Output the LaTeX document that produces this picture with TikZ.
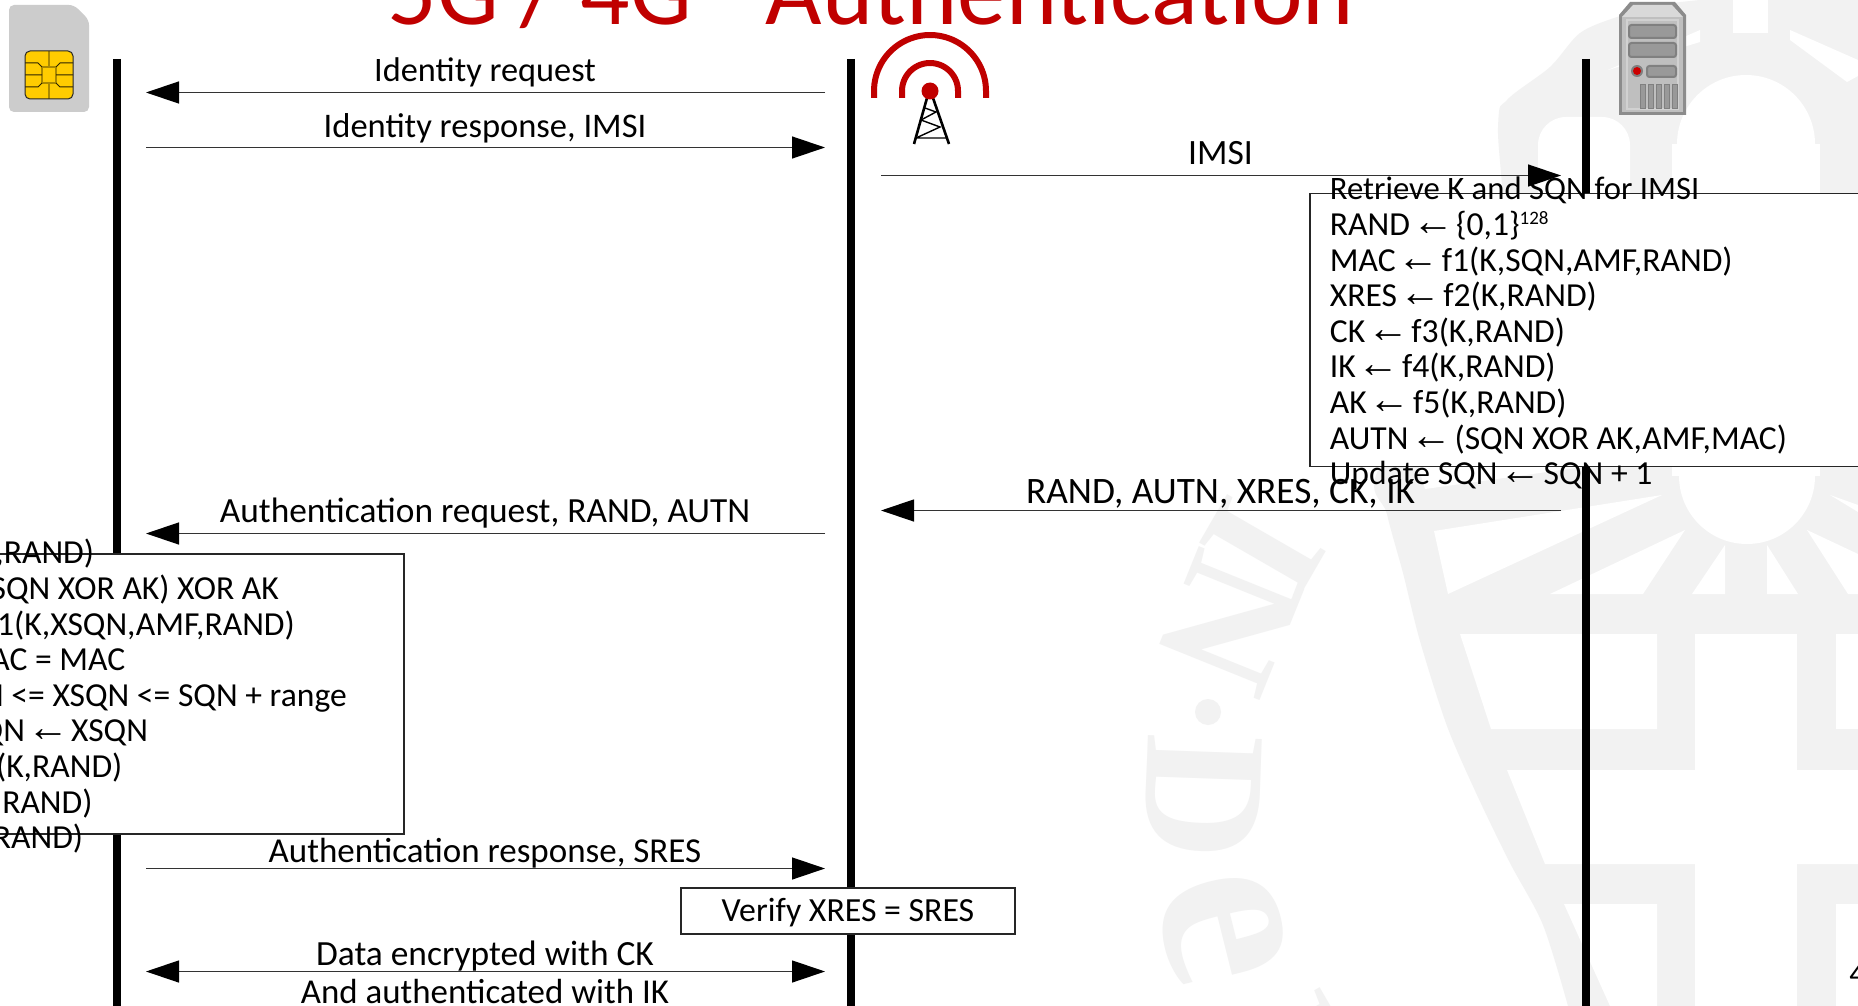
\documentclass[tikz,border=0pt]{standalone}
\usepackage{fontspec}
\setmainfont{Carlito}
\newfontfamily\wmfont{Liberation Serif}[BoldFont={Liberation Serif Bold}]
\newfontfamily\symfont{Liberation Sans}
\usetikzlibrary{arrows.meta}
\definecolor{wmgray}{HTML}{F2F2F2}
\definecolor{titlered}{HTML}{C00000}
\definecolor{chipline}{HTML}{AA8800}
\definecolor{chipfill}{HTML}{FFCC00}
\newcommand{\la}{\makebox[15.5pt][c]{\symfont\fontsize{21}{18}\selectfont ←}}
\newcommand{\fs}[1]{\fontsize{#1}{18}\selectfont}
\tikzset{
  x=0.5pt,y=-0.5pt,
  lifeline/.style={line width=4pt,black},
  msg/.style={line width=0.65pt,draw=black!80,-{Triangle[length=16.5pt,width=11pt,black]}},
  msgboth/.style={line width=0.65pt,draw=black!80,{Triangle[length=16.5pt,width=11pt,black]}-{Triangle[length=16.5pt,width=11pt,black]}},
  lbl/.style={anchor=base,inner sep=0pt},
  calcbox/.style={draw=black!85,fill=white,line width=0.55pt,inner sep=0pt},
  calctext/.style={anchor=north west,inner sep=0pt,align=left,font=\fontsize{16.8}{17.8}\selectfont},
  wm/.style={fill=wmgray},
  wl/.style={fill=white},
  letter/.style={inner sep=0pt,text=wmgray,font=\wmfont\bfseries\fontsize{87}{87}\selectfont},
  srvbay/.style={fill=black!40,draw=black!50,line width=1pt,rounded corners=1.2pt},
}
\begin{document}
\begin{tikzpicture}
\useasboundingbox (0,0) rectangle (1858,1006);
\fill[white] (0,0) rectangle (1858,1006);
% watermark
\fill[wm] plot[smooth] coordinates {(1568,1006)(1543,925)(1510,863)(1477,795)(1447,726)(1420,641)(1403,573)(1387,514)(1380,466)(1498,300)(1498,127)(1507,100)(1550,67)(1580,33)(1617,17)(1660,5)(1700,0)} -- (1858,0) -- (1858,1006) -- cycle;
\fill[wl] (1672,144) rectangle (1820,476);
\fill[wl] (1746,144) circle[radius=69];
\fill[wl,rounded corners=14pt] (1538,117) rectangle (1630,300);
\fill[wl] (1747,476) circle[radius=68];
\fill[wl] (1733,0) rectangle (1768,33);
\fill[wl] (1790,30) -- (1858,60) -- (1858,76) -- (1847,82) -- (1790,40) -- cycle;
\fill[wl] (1608,70) -- (1700,30) -- (1700,42) -- cycle;
\fill[wl] (1418,466) -- (1425,489) -- (1590,466) -- cycle;
\fill[wl] (1434,531) -- (1662,495) -- (1448,594) -- cycle;
\fill[wl] (1550,594) -- (1685,530) -- (1643,594) -- cycle;
\fill[wl] (1692,594) -- (1725,545) -- (1725,594) -- cycle;
\fill[wl] (1767,545) -- (1767,594) -- (1798,594) -- cycle;
\fill[wl] (1807,530) -- (1848,594) -- (1858,594) -- (1858,554) -- cycle;
\fill[wl] (1830,495) -- (1858,505) -- (1858,512) -- cycle;
\fill[wl] (1460,634) -- (1657,634) -- (1657,729) -- (1491,729) -- cycle;
\fill[wl] (1507,770) -- (1858,770) -- (1858,864) -- (1545,864) -- cycle;
\fill[wl] (1695,634) rectangle (1797,1006);
\fill[wl] (1836,634) rectangle (1858,729);
\fill[wl] (1836,904) rectangle (1858,1006);
\fill[wl] (1564,904) -- (1657,904) -- (1657,1006) -- (1610,1006) -- cycle;
\node[letter,rotate=-120] (wmi) at (1263,547) {I};
\node[letter,rotate=-112] (wmn) at (1230,623) {N};
\fill[wmgray] (1208,712) circle[radius=13];
\node[letter,rotate=-92] (wmd) at (1203,797) {D};
\node[letter,rotate=-76,font=\wmfont\bfseries\fontsize{125}{125}\selectfont] (wme) at (1222,927) {e};
\node[letter,rotate=-60] (wmt) at (1285,1040) {I};
% title
\node[anchor=base,inner sep=0pt,text=titlered,font=\fontsize{48.8}{48}\selectfont] (title) at (871,25) {5G / 4G - Authentication};
% lifelines
\coordinate (ueTop) at (117,59); \coordinate (ueBot) at (117,1006);
\coordinate (enbTop) at (850.5,59); \coordinate (enbBot) at (850.5,1006);
\coordinate (hssTop) at (1586,59); \coordinate (hssBot) at (1586,1006);
\draw[lifeline] (ueTop) -- (ueBot);
\draw[lifeline] (enbTop) -- (enbBot);
\draw[lifeline] (hssTop) -- (hssBot);
% SIM icon
\fill[black!20,rounded corners=2.5pt] (9,5) -- (74,5) -- (89,20) -- (89,112) -- (9,112) -- cycle;
\fill[chipfill,rounded corners=2.5pt] (25,51) rectangle (73,99);
\draw[chipline,line width=0.8pt] (49,51) -- (49,67) (49,83) -- (49,99) (42,67) -- (42,83) (56,67) -- (56,83) (42,67) -- (56,67) (42,83) -- (56,83);
\draw[black!75!chipline,line width=0.5pt] (25,63) -- (38,63) -- (42,67) (42,83) -- (38,87) -- (25,87) (25,75) -- (42,75) (73,63) -- (60,63) -- (56,67) (56,83) -- (60,87) -- (73,87) (73,75) -- (56,75);
\draw[black!85,line width=0.5pt,rounded corners=2.5pt] (25,51) rectangle (73,99);
% tower
\draw[titlered,line width=3pt] (874,98) -- plot[domain=180:360,samples=50] ({930+56*cos(\x)},{91+56*sin(\x)}) -- (986,98);
\draw[titlered,line width=3pt] (902,98) -- plot[domain=180:360,samples=40] ({930+28*cos(\x)},{91+28*sin(\x)}) -- (958,98);
\draw[black,line width=1.3pt] (927,98) -- (914,144) (933,98) -- (949,144);
\draw[black,line width=0.7pt] (916,138) -- (947,138) (916,138) -- (940,127) -- (921,120) -- (936,112) -- (925,108);
\fill[titlered] (930,91) circle[radius=8.5];
% server icon
\fill[black!45] (1630,2) -- (1675,2) -- (1686,15) -- (1686,115) -- (1619,115) -- (1619,15) -- cycle;
\fill[black!15] (1633,5) -- (1672,5) -- (1683,17) -- (1622,17) -- cycle;
\fill[black!25] (1622,17) rectangle (1683,112);
\fill[black!18] (1626,19) rectangle (1679,110);
\fill[black!25] (1628,21) rectangle (1677,108);
\draw[srvbay] (1629,25) rectangle (1676,38);
\draw[srvbay] (1629,43) rectangle (1676,57);
\draw[srvbay] (1647,66) rectangle (1676,77);
\fill[black!50] (1637,71) circle[radius=6];
\fill[red!80!black] (1637,71) circle[radius=4];
\foreach \vx in {1640,1648,1656,1664,1672}{\fill[black!40,draw=black!50,line width=0.5pt] (\vx,85) rectangle (\vx+5,109);}
% calculation boxes
\node[calcbox,minimum width=284pt,minimum height=136.25pt] (hssbox) at (1594,330) {};
\node[calcbox,minimum width=232pt,minimum height=140pt] (uebox) at (172,694) {};
\node[calcbox,minimum width=167pt,minimum height=23pt,text height=11.2pt,text depth=0.6pt,font=\fs{16.9}] (verify) at (848,911) {Verify XRES = SRES};
% connectors
\coordinate (a1s) at (825,92.5); \coordinate (a1e) at (146,92.5);
\coordinate (a2s) at (146,147.5); \coordinate (a2e) at (825,147.5);
\coordinate (a3s) at (881,175.5); \coordinate (a3e) at (1561,175.5);
\coordinate (a4s) at (1561,510.5); \coordinate (a4e) at (881,510.5);
\coordinate (a5s) at (825,533.5); \coordinate (a5e) at (146,533.5);
\coordinate (a6s) at (146,868.5); \coordinate (a6e) at (825,868.5);
\coordinate (a7s) at (146,971.5); \coordinate (a7e) at (825,971.5);
\draw[msg] (a1s) -- (a1e);
\draw[msg] (a2s) -- (a2e);
\draw[msg] (a3s) -- (a3e);
\draw[msg] (a4s) -- (a4e);
\draw[msg] (a5s) -- (a5e);
\draw[msg] (a6s) -- (a6e);
\draw[msgboth] (a7s) -- (a7e);
% labels
\node[lbl,font=\fs{17.15}] (l1) at (485,81.5) {Identity request};
\node[lbl,font=\fs{17.26}] (l2) at (485,137.2) {Identity response, IMSI};
\node[lbl,font=\fs{17.8}] (l3) at (1220.5,164.7) {IMSI};
\node[lbl,font=\fs{18.66}] (l4) at (1220.5,503.7) {RAND, AUTN, XRES, CK, IK};
\node[lbl,font=\fs{17.68}] (l5) at (485,522.5) {Authentication request, RAND, AUTN};
\node[lbl,font=\fs{17.5}] (l6) at (485,862.5) {Authentication response, SRES};
\node[lbl,font=\fs{17.7}] (l7) at (485,965.7) {Data encrypted with CK};
\node[lbl,font=\fs{17.45}] (l8) at (485,1003.2) {And authenticated with IK};
\node[calctext] (hsstext) at (1329.5,174.5) {\rule{0pt}{12.46pt}{\fontsize{16.35}{17.8}\selectfont Retrieve K and SQN for IMSI}\\
RAND \la{} \{0,1\}\smash{\raisebox{5.5pt}{\fontsize{9.5}{10}\selectfont 128}}\\
MAC \la{} f1(K,SQN,AMF,RAND)\\
XRES \la{} f2(K,RAND)\\
CK \la{} f3(K,RAND)\\
IK \la{} f4(K,RAND)\\
AK \la{} f5(K,RAND)\\
AUTN \la{} (SQN XOR AK,AMF,MAC)\\
Update SQN \la{} SQN + 1};
\node[calctext] (uetext) at (-143,538.5) {\rule{0pt}{12.46pt}AK \la{} f5(K,RAND)\\
XSQN \la{} (SQN XOR AK) XOR AK\\
XMAC \la{} f1(K,XSQN,AMF,RAND)\\
Verify XMAC = MAC\\
Verify SQN <= XSQN <= SQN + range\\
Update SQN \la{} XSQN\\
SRES \la{} f2(K,RAND)\\
CK \la{} f3(K,RAND)\\
IK \la{} f4(K,RAND)};
\node[anchor=base west,inner sep=0pt,font=\fontsize{16}{18}\selectfont] (pagenum) at (1849,984) {4};
\end{tikzpicture}
\end{document}
